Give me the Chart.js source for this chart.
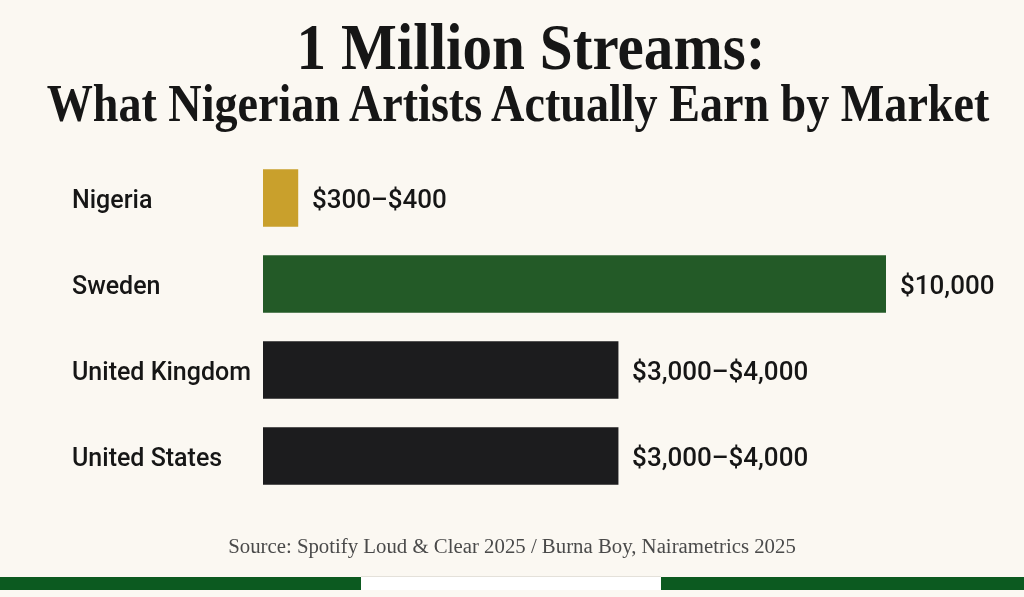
<!DOCTYPE html>
<html>
<head>
<meta charset="utf-8">
<script src="https://cdn.jsdelivr.net/npm/chart.js@4"></script>
<style>
  html, body { margin: 0; padding: 0; background: #fbf8f2; }
  #page { position: relative; width: 1024px; height: 597px; overflow: hidden; background: #fbf8f2; }
  #chart-wrap { position: absolute; left: 0; top: 0; width: 1024px; height: 597px; }
  .title { position: absolute; white-space: nowrap; font-family: "Liberation Serif", serif; font-weight: bold; color: #161616; line-height: 1; transform-origin: center top; }
  #t1 { top: 15px; left: 531px; font-size: 65px; transform: translateX(-50%) scaleX(0.91); }
  #t2 { top: 77px; left: 518px; font-size: 53px; transform: translateX(-50%) scaleX(0.87); }
  #source { position: absolute; top: 536px; left: 512px; transform: translateX(-50%) scaleX(1.04); white-space: nowrap; font-family: "Liberation Serif", serif; font-size: 20px; color: #4a4a4a; line-height: 1; }
  .stripe { position: absolute; top: 577px; height: 13px; }
</style>
</head>
<body>
<div id="page">
  <div id="chart-wrap"><canvas id="bar-chart"></canvas></div>
  <div class="title" id="t1">1 Million Streams:</div>
  <div class="title" id="t2">What Nigerian Artists Actually Earn by Market</div>
  <div id="source">Source: Spotify Loud &amp; Clear 2025 / Burna Boy, Nairametrics 2025</div>
  <div class="stripe" style="left:0;width:361px;background:#0c5a20;"></div>
  <div class="stripe" style="left:361px;width:300px;background:#ffffff;border-top:1px solid #e4e1da;top:576px;"></div>
  <div class="stripe" style="left:661px;width:363px;background:#0c5a20;"></div>
</div>
<script>
// markets, bar lengths as drawn in the graphic, and the printed earnings labels
const markets = ["Nigeria", "Sweden", "United Kingdom", "United States"];
const barValues = [560, 10000, 5700, 5700];
const earningLabels = ["$300–$400", "$10,000", "$3,000–$4,000", "$3,000–$4,000"];
const barColors = ["#c9a02c", "#235a27", "#1c1c1e", "#1c1c1e"];

const valueLabels = {
  id: "valueLabels",
  afterDatasetsDraw(chart) {
    const { ctx } = chart;
    const meta = chart.getDatasetMeta(0);
    ctx.save();
    ctx.font = '500 26px Roboto, "Noto Sans", sans-serif';
    ctx.fillStyle = "#161616";
    ctx.textAlign = "left";
    ctx.textBaseline = "middle";
    meta.data.forEach((bar, i) => {
      ctx.fillText(earningLabels[i], bar.x + 14, bar.y + 3);
    });
    ctx.restore();
  },
};

new Chart(document.getElementById("bar-chart"), {
  type: "bar",
  data: {
    labels: markets,
    datasets: [
      {
        data: barValues,
        backgroundColor: barColors,
        borderWidth: 0,
        barThickness: 57,
      },
    ],
  },
  options: {
    indexAxis: "y",
    responsive: true,
    maintainAspectRatio: false,
    animation: false,
    layout: { padding: { left: 72, right: 138, top: 155, bottom: 98 } },
    plugins: {
      legend: { display: false },
      tooltip: { enabled: false },
      title: { display: false },
    },
    scales: {
      x: { display: false, min: 0, max: 10000 },
      y: {
        grid: { display: false },
        border: { display: false },
        afterFit: (scale) => { scale.width = 191; },
        ticks: {
          crossAlign: "far",
          labelOffset: 4,
          color: "#161616",
          font: { family: 'Roboto, "Noto Sans", sans-serif', size: 25, weight: "500" },
        },
      },
    },
  },
  plugins: [valueLabels],
});
</script>
</body>
</html>
